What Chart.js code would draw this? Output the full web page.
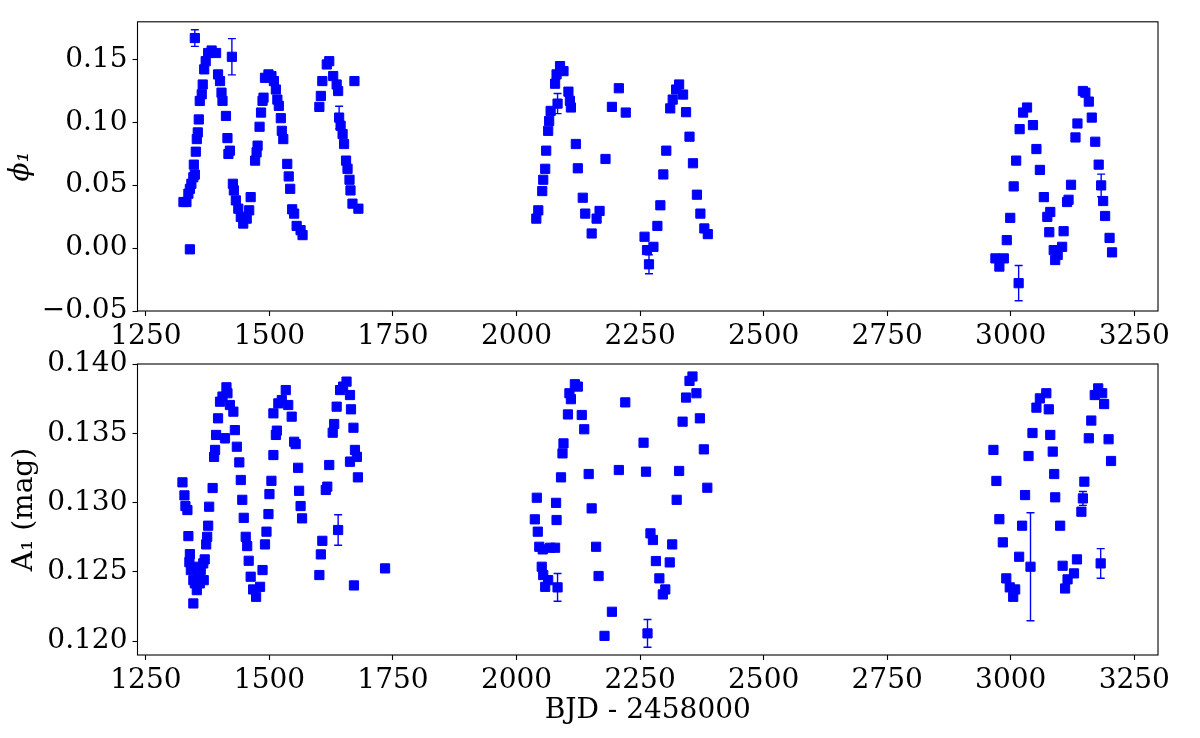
<!DOCTYPE html>
<html>
<head>
<meta charset="utf-8">
<script src="https://cdn.jsdelivr.net/npm/chart.js@4/dist/chart.umd.min.js"></script>
<style>
html,body{margin:0;padding:0;background:#fff;}
#wrap{position:relative;width:1200px;height:738px;overflow:hidden;background:#fff;}
#c1{position:absolute;left:0;top:0;}
#c2{position:absolute;left:0;top:340px;}
</style>
</head>
<body>
<div id="wrap">
<canvas id="c1" width="1200" height="360"></canvas>
<canvas id="c2" width="1200" height="398"></canvas>
</div>
<script>
// ---------- tick labels ----------
const xTicks = [1250, 1500, 1750, 2000, 2250, 2500, 2750, 3000, 3250];
const phiTicks = [-0.05, 0.00, 0.05, 0.10, 0.15];
const ampTicks = [0.120, 0.125, 0.130, 0.135, 0.140];

// ---------- phi_1 (top panel) ----------
const phiTime = [
  1326,1332,1336,1339,1339,1342,1346,1347,1349,1349,
  1351,1353,1355,1357,1359,1363,1365,1368,1371,1376,
  1383,1392,1396,1400,1403,1405,1412,1415,1417,1420,
  1424,1426,1428,1432,1437,1442,1447,1454,1459,1462,
  1471,1474,1476,1480,1483,1486,1488,1491,1498,1504,
  1509,1513,1516,1519,1523,1525,1528,1536,1539,1542,
  1546,1550,1555,1563,1567,1601,1604,1607,1616,1621,
  1629,1636,1639,1641,1644,1648,1651,1655,1658,1662,
  1664,1668,1672,1680,
  2040,2044,2052,2054,2058,2060,2064,2066,2069,2078,
  2081,2083,2088,2095,2105,2108,2110,2120,2124,2134,
  2139,2152,2162,2168,2180,2193,2207,2221,2259,2264,
  2268,2277,2285,2291,2297,2303,2311,2316,2323,2329,
  2337,2343,2350,2357,2365,2372,2380,2387,
  2969,2977,2986,2992,2999,3006,3011,3016,3018,3025,
  3033,3045,3052,3059,3067,3074,3078,3080,3087,3090,
  3095,3104,3107,3114,3117,3122,3131,3135,3146,3151,
  3158,3164,3171,3178,3183,3187,3191,3200,3205
];
const phiValue = [
  0.0366,0.0366,0.0432,-0.0010,0.0471,0.0511,0.0563,0.0663,0.0584,0.1669,
  0.0766,0.0866,0.0919,0.1022,0.1169,0.1222,0.1300,0.1420,0.1485,0.1550,
  0.1570,0.1550,0.1380,0.1327,0.1235,0.1170,0.1050,0.0874,0.0748,0.0774,
  0.1520,0.0511,0.0458,0.0379,0.0313,0.0248,0.0195,0.0234,0.0300,0.0405,
  0.0695,0.0761,0.0814,0.0964,0.1077,0.1170,0.1195,0.1353,0.1380,0.1367,
  0.1327,0.1260,0.1180,0.1130,0.1032,0.0932,0.0866,0.0669,0.0569,0.0471,
  0.0308,0.0274,0.0176,0.0142,0.0103,0.1122,0.1209,0.1327,0.1459,0.1485,
  0.1367,0.1300,0.1248,0.1037,0.0972,0.0906,0.0827,0.0695,0.0630,0.0543,
  0.0458,0.0353,0.1327,0.0313,
  0.0234,0.0300,0.0453,0.0543,0.0630,0.0774,0.0932,0.1010,0.1090,0.1306,
  0.1380,0.1148,0.1446,0.1406,0.1243,0.1170,0.1117,0.0827,0.0634,0.0400,
  0.0274,0.0116,0.0234,0.0295,0.0708,0.1122,0.1270,0.1077,0.0090,-0.0016,
  -0.0129,0.0010,0.0176,0.0340,0.0585,0.0774,0.1110,0.1180,0.1260,0.1300,
  0.1220,0.1080,0.0885,0.0674,0.0424,0.0274,0.0156,0.0111,
  -0.0082,-0.0147,-0.0082,0.0063,0.0240,0.0490,0.0695,-0.0279,0.0945,0.1077,
  0.1117,0.0977,0.0787,0.0621,0.0405,0.0248,0.0126,0.0287,-0.0016,-0.0095,
  -0.0055,0.0010,0.0134,0.0366,0.0384,0.0503,0.0879,0.0990,0.1248,0.1235,
  0.1164,0.1037,0.0845,0.0663,0.0498,0.0374,0.0255,0.0081,-0.0034
];
const phiError = [
  0,0,0,0.002,0,0,0,0,0,0.0066,
  0,0,0,0,0,0,0,0,0,0,
  0,0,0,0,0,0,0,0,0,0,
  0.0144,0,0,0,0,0,0,0,0,0,
  0,0,0,0,0,0,0,0,0,0,
  0,0,0,0,0,0,0,0,0,0,
  0,0,0,0,0,0,0,0,0,0,
  0,0,0,0.009,0,0,0,0,0,0,
  0,0,0,0,
  0,0,0,0,0,0,0,0,0,0,
  0,0.008,0,0,0,0,0,0,0,0,
  0,0,0,0,0,0,0,0,0,0,
  0.0075,0,0,0,0,0,0,0,0,0,
  0,0,0,0,0,0,0,0,
  0,0,0,0,0,0,0,0.014,0,0,
  0,0,0,0,0,0,0,0,0,0,
  0,0,0,0,0,0,0,0,0,0,
  0,0,0,0,0.009,0,0,0,0
];

// ---------- A_1 (bottom panel) ----------
const ampTime = [
  1324,1328,1330,1334,1336,1338,1339,1341,1346,1346,
  1349,1353,1353,1356,1359,1361,1366,1367,1369,1372,
  1374,1376,1378,1385,1388,1390,1392,1396,1400,1405,
  1410,1413,1415,1420,1427,1430,1434,1439,1442,1445,
  1448,1452,1455,1458,1462,1467,1473,1481,1486,1491,
  1494,1498,1500,1504,1508,1508,1513,1515,1518,1525,
  1533,1538,1545,1550,1553,1558,1560,1563,1566,1601,
  1604,1607,1614,1617,1621,1628,1631,1636,1639,1643,
  1649,1656,1663,1663,1665,1670,1671,1673,1677,1679,
  1734,
  2037,2041,2043,2046,2051,2053,2054,2058,2064,2068,
  2078,2080,2081,2083,2090,2093,2095,2104,2107,2110,
  2118,2124,2132,2137,2146,2152,2161,2166,2178,2193,
  2207,2220,2257,2262,2265,2271,2276,2282,2289,2296,
  2301,2310,2315,2324,2329,2336,2343,2350,2356,2364,
  2371,2379,2386,
  2965,2971,2977,2984,2991,2998,3005,3009,3017,3023,
  3029,3036,3040,3044,3052,3059,3072,3077,3080,3085,
  3088,3090,3100,3105,3110,3115,3128,3134,3143,3146,
  3149,3158,3163,3170,3177,3182,3185,3189,3198,3203
];
const ampValue = [
  0.13146,0.13052,0.12975,0.12946,0.12758,0.12570,0.12628,0.12513,0.12440,0.12272,
  0.12417,0.12368,0.12537,0.12465,0.12417,0.12513,0.12561,0.12440,0.12590,0.12698,
  0.12753,0.12833,0.12970,0.13105,0.13330,0.13380,0.13488,0.13608,0.13728,0.13765,
  0.13464,0.13832,0.13789,0.13704,0.13656,0.13523,0.13403,0.13290,0.13163,0.13020,
  0.12890,0.12753,0.12686,0.12580,0.12465,0.12373,0.12320,0.12392,0.12513,0.12698,
  0.12790,0.12917,0.13061,0.13157,0.13343,0.13644,0.13488,0.13519,0.13716,0.13740,
  0.13812,0.13704,0.13620,0.13439,0.13422,0.13251,0.13085,0.12975,0.12886,0.12477,
  0.12626,0.12724,0.13091,0.13115,0.13271,0.13504,0.13567,0.13692,0.12802,0.13812,
  0.13837,0.13873,0.13776,0.13295,0.13673,0.13540,0.12402,0.13380,0.13330,0.13182,
  0.12525,
  0.12879,0.13035,0.12790,0.12681,0.12537,0.12662,0.12477,0.12392,0.12440,0.12674,
  0.12674,0.12998,0.12874,0.12388,0.13182,0.13355,0.13427,0.13636,0.13789,0.13746,
  0.13854,0.13837,0.13632,0.13529,0.13206,0.12958,0.12681,0.12470,0.12038,0.12212,
  0.13235,0.13723,0.13432,0.13223,0.12056,0.12778,0.12730,0.12578,0.12453,0.12337,
  0.12373,0.12568,0.12698,0.13020,0.13228,0.13584,0.13758,0.13878,0.13910,0.13789,
  0.13608,0.13384,0.13107,
  0.13380,0.13156,0.12880,0.12713,0.12453,0.12388,0.12320,0.12373,0.12609,0.12833,
  0.13054,0.13336,0.12537,0.13502,0.13685,0.13752,0.13789,0.13673,0.13488,0.13368,
  0.13206,0.13038,0.12833,0.12544,0.12380,0.12446,0.12489,0.12590,0.12934,0.13030,
  0.13151,0.13464,0.13592,0.13776,0.13824,0.12561,0.13789,0.13711,0.13457,0.13300
];
const ampError = [
  0,0,0,0,0,0,0,0.0002,0,0,
  0,0,0,0,0,0,0,0,0,0,
  0,0,0,0,0,0,0,0,0,0,
  0.0003,0,0,0,0,0,0,0,0,0,
  0,0,0,0,0,0,0,0,0,0,
  0,0,0,0,0,0,0.0003,0,0,0,
  0,0,0,0,0,0,0,0,0,0,
  0,0,0,0,0,0,0,0,0.0011,0,
  0,0,0,0.0003,0,0,0,0,0,0,
  0,
  0,0,0,0,0,0,0,0,0,0,
  0,0,0,0.0010,0,0,0,0,0,0,
  0,0,0,0,0,0,0,0,0,0,
  0,0,0,0,0.0010,0,0,0,0,0,
  0,0,0,0,0,0,0,0,0,0,
  0,0,0,
  0,0,0,0,0,0,0,0,0,0,
  0,0,0.0039,0,0,0,0,0,0,0,
  0,0,0,0,0.0002,0,0,0,0,0.0005,
  0,0,0,0,0,0.00107,0,0,0,0
];

// ---------- helpers / plugins ----------
const FONT = 'DejaVu Serif';
function fmt(v, d) { return v.toFixed(d).replace('-', '\u2212'); }

const errorBars = {
  id: 'errorBars',
  afterDatasetsDraw(chart, args, opts) {
    const errs = opts.errors || [];
    const pts = chart.data.datasets[0].data;
    const xs = chart.scales.x, ys = chart.scales.y, ctx = chart.ctx;
    const a = chart.chartArea;
    ctx.save();
    ctx.beginPath(); ctx.rect(a.left, a.top, a.right - a.left, a.bottom - a.top); ctx.clip();
    ctx.strokeStyle = '#0000ff'; ctx.lineWidth = 1.4;
    pts.forEach((p, i) => {
      const e = errs[i];
      if (!e) return;
      const px = xs.getPixelForValue(p.x);
      const y1 = ys.getPixelForValue(p.y - e), y2 = ys.getPixelForValue(p.y + e);
      ctx.beginPath();
      ctx.moveTo(px, y1); ctx.lineTo(px, y2);
      ctx.moveTo(px - 4, y1); ctx.lineTo(px + 4, y1);
      ctx.moveTo(px - 4, y2); ctx.lineTo(px + 4, y2);
      ctx.stroke();
    });
    ctx.restore();
  }
};
const frame = {
  id: 'frame',
  afterDatasetsDraw(chart) {
    const { ctx, chartArea: a } = chart;
    ctx.save();
    ctx.strokeStyle = '#000'; ctx.lineWidth = 1.1;
    ctx.strokeRect(a.left, a.top, a.right - a.left, a.bottom - a.top);
    ctx.restore();
  }
};

function makeChart(canvas, xs, ys, es, cfg) {
  return new Chart(canvas, {
    type: 'scatter',
    data: { datasets: [{
      data: xs.map((t, i) => ({ x: t, y: ys[i] })),
      pointStyle: 'rect', pointRadius: 6.5, pointHoverRadius: 6.5,
      backgroundColor: '#0000ff', borderColor: '#0000ff', borderWidth: 1
    }] },
    options: {
      responsive: false, animation: false, events: [],
      layout: { padding: cfg.padding },
      plugins: { legend: { display: false }, tooltip: { enabled: false }, errorBars: { errors: es } },
      scales: {
        x: {
          type: 'linear', min: 1233, max: 3298,
          afterBuildTicks: s => { s.ticks = xTicks.map(v => ({ value: v })); },
          afterFit: s => { s.height = cfg.xHeight; },
          grid: { drawOnChartArea: false, drawTicks: true, tickLength: 5, tickColor: '#000', tickWidth: 1.1 },
          border: { display: false },
          ticks: { font: { family: FONT, size: 28 }, color: '#000', padding: 4, maxRotation: 0, autoSkip: false,
                   callback: v => String(v) },
          title: cfg.xTitle ? { display: true, text: cfg.xTitle, color: '#000',
                   font: { family: FONT, size: 28 }, padding: { top: 0, bottom: 10 } } : { display: false }
        },
        y: {
          type: 'linear', min: cfg.yMin, max: cfg.yMax,
          afterBuildTicks: s => { s.ticks = cfg.yTicks.map(v => ({ value: v })); },
          afterFit: s => { s.width = 137.5; },
          grid: { drawOnChartArea: false, drawTicks: true, tickLength: 5, tickColor: '#000', tickWidth: 1.1 },
          border: { display: false },
          ticks: { font: { family: FONT, size: 28 }, color: '#000', padding: 5, autoSkip: false,
                   callback: v => fmt(v, cfg.yDec) },
          title: { display: true, text: cfg.yTitle, color: '#000',
                   font: { family: FONT, size: 28, style: cfg.yTitleStyle || 'normal' },
                   padding: { top: cfg.yTitlePad, bottom: 0 } }
        }
      }
    },
    plugins: [errorBars, frame]
  });
}

makeChart(document.getElementById('c1'), phiTime, phiValue, phiError, {
  padding: { left: 0, right: 42, top: 20, bottom: 0 },
  xHeight: 49, yMin: -0.05, yMax: 0.1798, yTicks: phiTicks, yDec: 2,
  yTitle: '\u03D5\u2081', yTitleStyle: 'italic', yTitlePad: 4
});
makeChart(document.getElementById('c2'), ampTime, ampValue, ampError, {
  padding: { left: 0, right: 42, top: 24, bottom: 0 },
  xHeight: 83, yMin: 0.1190, yMax: 0.1400, yTicks: ampTicks, yDec: 3,
  yTitle: 'A\u2081 (mag)', yTitlePad: 8, xTitle: 'BJD - 2458000'
});
</script>
</body>
</html>
